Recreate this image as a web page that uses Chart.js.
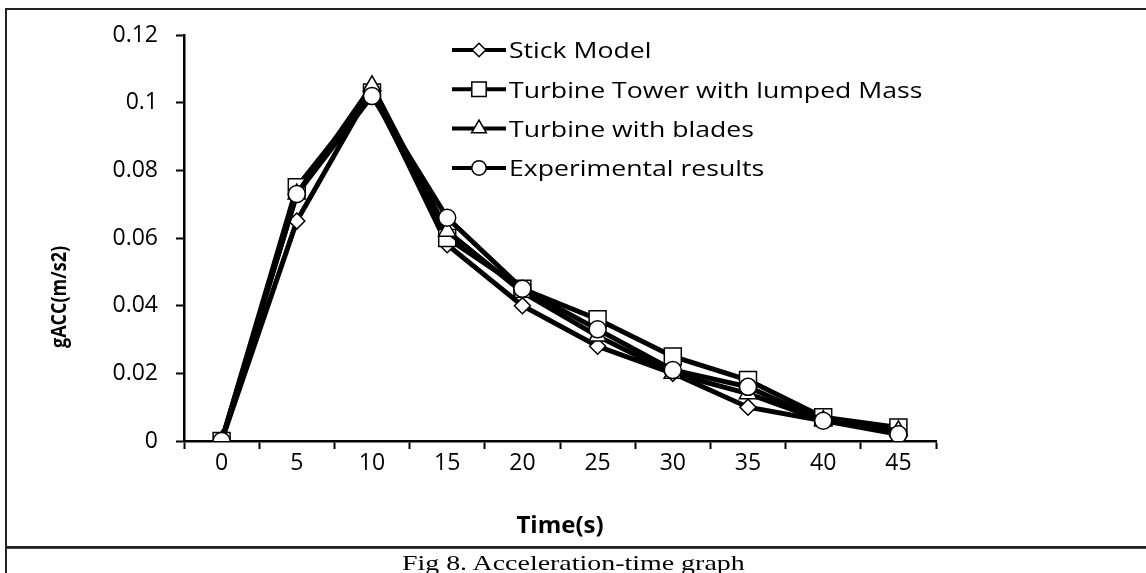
<!DOCTYPE html>
<html>
<head>
<meta charset="utf-8">
<script src="https://cdn.jsdelivr.net/npm/chart.js@4.4.1/dist/chart.umd.min.js"></script>
<style>
  html, body { margin: 0; padding: 0; background: #fff; }
  body { width: 1146px; height: 573px; position: relative; overflow: hidden; }
  #wrap { position: absolute; left: 0; top: 0; width: 1146px; height: 549px; }
  #frame { position: absolute; left: 5px; top: 8px; width: 1160px; height: 540px; border: 2px solid #222; box-sizing: border-box; pointer-events: none; }
  #capbox { position: absolute; left: 5px; top: 548px; width: 1160px; height: 40px; border-left: 2px solid #222; border-top: 1px solid #444; }
  #caption { position: absolute; left: 0; top: 551px; width: 1146px; text-align: center; font-family: "Liberation Serif", serif; font-size: 21px; color: #000; transform: scaleX(1.33); transform-origin: 572px 0; }
</style>
</head>
<body>
<div id="wrap"><canvas id="accel-chart" width="1146" height="549"></canvas></div>
<div id="frame"></div>
<div id="capbox"></div>
<div id="caption">Fig 8. Acceleration-time graph</div>
<script>
const timeLabels = ['0', '5', '10', '15', '20', '25', '30', '35', '40', '45'];
const stickModel = [0, 0.065, 0.104, 0.058, 0.040, 0.028, 0.020, 0.010, 0.006, 0.003];
const towerLumpedMass = [0, 0.075, 0.103, 0.060, 0.045, 0.036, 0.025, 0.018, 0.007, 0.004];
const turbineBlades = [0, 0.073, 0.105, 0.062, 0.044, 0.031, 0.020, 0.014, 0.006, 0.003];
const experimental = [0, 0.073, 0.102, 0.066, 0.045, 0.033, 0.021, 0.016, 0.006, 0.002];

const seriesNames = ['Stick Model', 'Turbine Tower with lumped Mass', 'Turbine with blades', 'Experimental results'];
const seriesValues = [stickModel, towerLumpedMass, turbineBlades, experimental];
const seriesMarkers = ['rectRot', 'rect', 'triangle', 'circle'];
const markerSizes = [8, 12, 10, 8.5];

const baseFont = '"Open Sans", "Liberation Sans", sans-serif';

// legend drawn by hand: line + marker like the Excel one
const figureLegend = {
    id: 'figureLegend',
    afterDraw (chart) {
        const ctx = chart.ctx;
        chart.data.datasets.forEach((ds, i) => {
            const y = 50 + i * 39.3;
            ctx.save();
            ctx.strokeStyle = '#000';
            ctx.lineWidth = 4;
            ctx.beginPath();
            ctx.moveTo(452, y);
            ctx.lineTo(506, y);
            ctx.stroke();
            ctx.fillStyle = '#fff';
            ctx.lineWidth = 1.5;
            Chart.helpers.drawPoint(ctx, {
                pointStyle: ds.pointStyle,
                radius: ds.pointRadius * 0.85,
                rotation: 0,
                borderWidth: 1.5
            }, 479, y);
            // the source image is stretched sideways
            ctx.translate(509, y);
            ctx.scale(1.21, 1);
            ctx.fillStyle = '#000';
            ctx.font = '22px ' + baseFont;
            ctx.textBaseline = 'middle';
            ctx.textAlign = 'left';
            ctx.fillText(ds.label, 0, 2);
            ctx.restore();
        });

        // y axis title, sits lower than centre in the original
        ctx.save();
        ctx.translate(60, 297);
        ctx.rotate(-Math.PI / 2);
        ctx.scale(1, 1.2);
        ctx.font = 'bold 18px ' + baseFont;
        ctx.fillStyle = '#000';
        ctx.textAlign = 'center';
        ctx.textBaseline = 'middle';
        ctx.fillText('gACC(m/s2)', 0, 0);
        ctx.restore();
    }
};

new Chart(
    document.getElementById('accel-chart'),
    {
        type: 'line',
        data: {
            labels: timeLabels,
            datasets: seriesNames.map((name, i) => ({
                label: name,
                data: seriesValues[i],
                borderColor: '#000',
                borderWidth: 5,
                pointStyle: seriesMarkers[i],
                pointRadius: markerSizes[i],
                pointBackgroundColor: '#fff',
                pointBorderColor: '#000',
                pointBorderWidth: 1.5,
                tension: 0,
                order: 3 - i
            }))
        },
        options: {
            responsive: false,
            animation: false,
            devicePixelRatio: 1,
            layout: {
                padding: { top: 35, right: 210, bottom: 0, left: 0 }
            },
            plugins: {
                legend: { display: false },
                tooltip: { enabled: false }
            },
            scales: {
                x: {
                    type: 'category',
                    offset: true,
                    grid: {
                        offset: true,
                        drawOnChartArea: false,
                        tickLength: 8,
                        tickColor: '#000',
                        tickWidth: 2
                    },
                    border: { color: '#000', width: 2.5 },
                    ticks: {
                        color: '#000',
                        padding: 1,
                        maxRotation: 0,
                        font: { family: baseFont, size: 23 }
                    },
                    title: {
                        display: true,
                        text: 'Time(s)',
                        color: '#000',
                        padding: { top: 0, bottom: 8 },
                        font: { family: baseFont, size: 24, weight: 'bold' }
                    },
                    afterFit: (scale) => { scale.height = 108; }
                },
                y: {
                    min: 0,
                    max: 0.12,
                    ticks: {
                        stepSize: 0.02,
                        color: '#000',
                        padding: 18,
                        font: { family: baseFont, size: 23 },
                        callback: (v) => Number(v.toFixed(2)).toString()
                    },
                    grid: {
                        drawOnChartArea: false,
                        tickLength: 8,
                        tickColor: '#000',
                        tickWidth: 2
                    },
                    border: { color: '#000', width: 2.5 },
                    afterFit: (scale) => { scale.width = 184; }
                }
            }
        },
        plugins: [figureLegend]
    }
);
</script>
</body>
</html>
